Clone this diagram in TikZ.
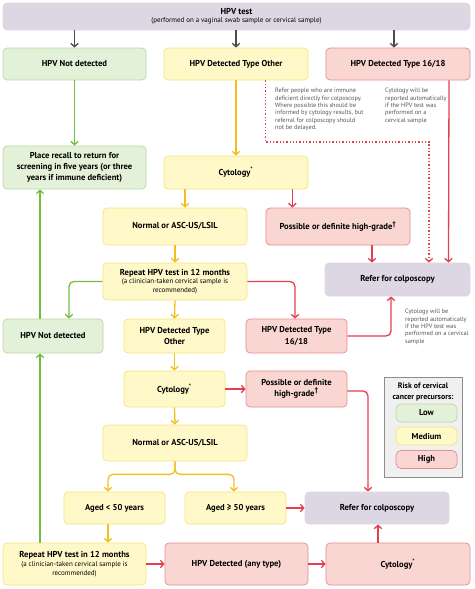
\documentclass[tikz,border=0pt]{standalone}
\usepackage{fontspec}
\setmainfont{PT Sans}
\usetikzlibrary{arrows.meta}

\definecolor{lowfill}{HTML}{E3F1D9}
\definecolor{lowline}{HTML}{B9D9A2}
\definecolor{lowarrow}{HTML}{72BE3C}
\definecolor{medfill}{HTML}{FFF8C9}
\definecolor{medline}{HTML}{F7E27A}
\definecolor{medarrow}{HTML}{F6BE1B}
\definecolor{highfill}{HTML}{F9D6D1}
\definecolor{highline}{HTML}{E48E90}
\definecolor{higharrow}{HTML}{E2404E}
\definecolor{referfill}{HTML}{DCD7E3}
\definecolor{notegray}{HTML}{555555}

\newcommand{\subtxt}[1]{{\mdseries\fontsize{7}{8}\selectfont #1}}

\tikzset{
  box/.style={draw, rounded corners=4pt, line width=0.7pt, align=center, inner sep=1pt,
    font=\bfseries\fontsize{8.6}{11.3}\selectfont},
  lowbox/.style={box, draw=lowline, fill=lowfill},
  medbox/.style={box, draw=medline, fill=medfill},
  highbox/.style={box, draw=highline, fill=highfill},
  referbox/.style={box, draw=referfill, fill=referfill},
  note/.style={anchor=north west, align=left, inner sep=0pt, text=notegray,
    font=\fontsize{6.3}{7.35}\selectfont},
  link/.style={line width=1.3pt, rounded corners=5pt,
    -{Straight Barb[length=3.5pt,width=7.5pt]}},
  glink/.style={link, draw=lowarrow},
  ylink/.style={link, draw=medarrow},
  rlink/.style={link, draw=higharrow},
  klink/.style={link, draw=black!70},
}

\begin{document}
\begin{tikzpicture}[x=1pt, y=-1pt]
\useasboundingbox (0,0) rectangle (474,589);

% first test and its three results
\node (test) [referbox, minimum width=467pt, minimum height=27pt] at (236.5,16.5)
  {HPV test\\[-3pt]\subtxt{(performed on a vaginal swab sample or cervical sample)}};
\node (nd1) [lowbox, minimum width=143pt, minimum height=32pt] at (74.5,64) {HPV Not detected};
\node (oth1) [medbox, minimum width=144pt, minimum height=32pt] at (236,64) {HPV Detected Type Other};
\node (hi1) [highbox, minimum width=144pt, minimum height=32pt] at (398,64) {HPV Detected Type 16/18};

\node (recall) [lowbox, minimum width=143pt, minimum height=43pt] at (74.5,167.5)
  {Place recall to return for\\screening in five years (or three\\years if immune deficient)};
\node (cyto1) [medbox, minimum width=144pt, minimum height=33pt] at (236,172.5) {Cytology\textsuperscript{*}};
\node (norm1) [medbox, minimum width=144pt, minimum height=37pt] at (175,226.5) {Normal or ASC-US/LSIL};
\node (poss1) [highbox, minimum width=144pt, minimum height=37pt] at (338,226.5) {Possible or definite high-grade\textsuperscript{\scriptsize †}};
\node (rep1) [medbox, minimum width=144pt, minimum height=37pt] at (175,281.5)
  {Repeat HPV test in 12 months\\[-2.5pt]\subtxt{(a clinician-taken cervical sample is}\\[-2.5pt]\subtxt{recommended)}};
\node (refer1) [referbox, minimum width=145pt, minimum height=33pt] at (397.5,279.5) {Refer for colposcopy};

% second round
\node (nd2) [lowbox, minimum width=100pt, minimum height=34pt] at (53,336) {HPV Not detected};
\node (oth2) [medbox, minimum width=101pt, minimum height=34pt] at (174.5,336) {HPV Detected Type\\Other};
\node (hi2) [highbox, minimum width=101pt, minimum height=34pt] at (296.5,336) {HPV Detected Type\\16/18};
\node (cyto2) [medbox, minimum width=101pt, minimum height=36pt] at (174.5,389) {Cytology\textsuperscript{*}};
\node (poss2) [highbox, minimum width=101pt, minimum height=36pt] at (296.5,389) {Possible or definite\\high-grade\textsuperscript{\scriptsize †}};
\node (norm2) [medbox, minimum width=144pt, minimum height=36pt] at (175,443) {Normal or ASC-US/LSIL};
\node (young) [medbox, minimum width=101pt, minimum height=32pt] at (114.5,508) {Aged < 50 years};
\node (old) [medbox, minimum width=101pt, minimum height=32pt] at (235.5,508) {Aged ≥ 50 years};
\node (refer2) [referbox, minimum width=144pt, minimum height=32pt] at (377,508) {Refer for colposcopy};
\node (rep2) [medbox, minimum width=143pt, minimum height=42pt] at (74.5,564)
  {Repeat HPV test in 12 months\\[-2.5pt]\subtxt{(a clinician-taken cervical sample is}\\[-2.5pt]\subtxt{recommended)}};
\node (anydet) [highbox, minimum width=143pt, minimum height=42pt] at (236.5,564) {HPV Detected (any type)};
\node (cyto3) [highbox, minimum width=144pt, minimum height=42pt] at (398,564) {Cytology\textsuperscript{*}};

% legend
\node (legend) [draw=black!45, fill=black!6, line width=0.7pt, minimum width=78pt, minimum height=100pt] at (423,427) {};
\node (legtitle) [align=center, inner sep=0pt, font=\bfseries\fontsize{7.9}{10.5}\selectfont] at (423,392)
  {Risk of cervical\\cancer precursors:};
\node (low) [lowbox, rounded corners=5pt, minimum width=61pt, minimum height=18pt] at (426.5,413) {Low};
\node (med) [medbox, rounded corners=5pt, minimum width=61pt, minimum height=18pt] at (426.5,436) {Medium};
\node (high) [highbox, rounded corners=5pt, minimum width=61pt, minimum height=18pt] at (426.5,459.5) {High};

% notes
\node (note1) [note] at (275,88) {Refer people who are immune\\deficient directly for colposcopy.\\Where possible this should be\\informed by cytology results, but\\referral for colposcopy should\\not be delayed.};
\node (note2) [note] at (385,88) {Cytology will be\\reported automatically\\if the HPV test was\\performed on a\\cervical sample};
\node (note3) [note] at (405,309) {Cytology will be\\reported automatically\\if the HPV test was\\performed on a cervical\\sample};

% connectors
\draw[klink] (test.south -| nd1) -- (nd1.north);
\draw[klink] (test.south -| oth1) -- (oth1.north);
\draw[klink] ([xshift=-4pt]test.south -| hi1) -- ([xshift=-4pt]hi1.north);
\draw[glink] (nd1.south) -- (recall.north);
\draw[ylink] (oth1.south) -- (cyto1.north);
\draw[rlink, dotted, rounded corners=0pt] ([xshift=-43pt]oth1.south east) |- (429,142) -- ([xshift=31.5pt]refer1.north);
\draw[rlink] ([xshift=51pt]hi1.south) -- ([xshift=51pt]refer1.north);
\draw[ylink] ([xshift=10pt]norm1.north |- cyto1.south) -- ([xshift=10pt]norm1.north);
\draw[rlink] ([xshift=-16pt]cyto1.south east) -- ([xshift=-16pt]cyto1.south east |- poss1.north);
\draw[ylink] (norm1.south) -- (rep1.north);
\draw[rlink] ([xshift=34pt]poss1.south) -- ([xshift=34pt]poss1.south |- refer1.north);
\draw[glink] (rep1.west) -| ([xshift=16pt]nd2.north);
\draw[ylink] (rep1.south) -- (oth2.north);
\draw[rlink] (rep1.east) -| ([xshift=-1.5pt]hi2.north);
\draw[rlink] (hi2.east) -| ([xshift=-6.5pt]refer1.south);
\draw[glink] ([xshift=-13pt]nd2.north) -- ([xshift=-13pt]nd2.north |- recall.south);
\draw[ylink] (oth2.south) -- (cyto2.north);
\draw[rlink] (cyto2.east) -- (poss2.west);
\draw[rlink] ([yshift=-2pt]poss2.east) -| ([xshift=-9pt]refer2.north);
\draw[ylink] (cyto2.south) -- (norm2.north);
\draw[ylink] (norm2.south) -- ++(0,13) -| ([xshift=-6.5pt]young.north);
\draw[ylink] (norm2.south) -- ++(0,13) -| ([xshift=-1.5pt]old.north);
\draw[rlink] (old.east) -- (refer2.west);
\draw[ylink] ([xshift=-6.5pt]young.south) -- ([xshift=-6.5pt]young.south |- rep2.north);
\draw[glink] ([xshift=-34.5pt]rep2.north) -- ([xshift=-34.5pt]rep2.north |- nd2.south);
\draw[rlink] (rep2.east) -- (anydet.west);
\draw[rlink] (anydet.east) -- (cyto3.west);
\draw[rlink] ([xshift=-20pt]cyto3.north) -- ([xshift=-20pt]cyto3.north |- refer2.south);
\end{tikzpicture}
\end{document}
